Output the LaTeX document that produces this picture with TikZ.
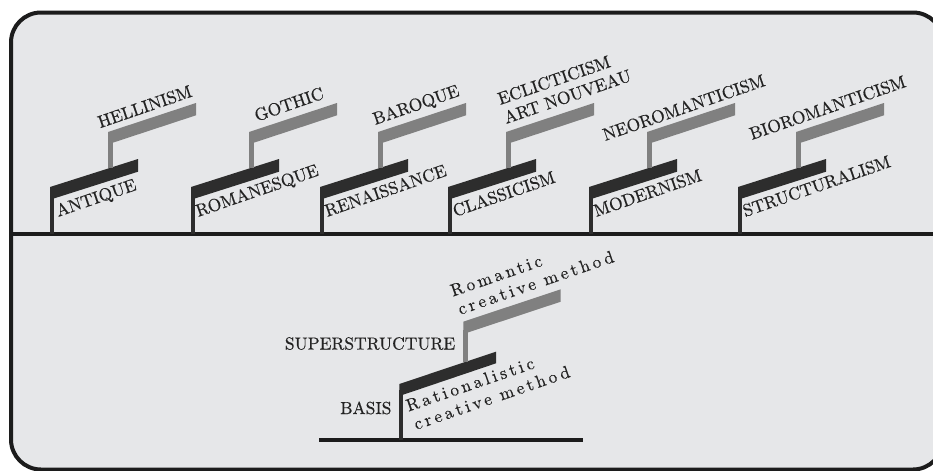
\documentclass[tikz,border=0pt]{standalone}
\usepackage{fontspec}
\newfontfamily\lblfont{lmroman10-regular.otf}[FakeBold=0.4]
\newfontfamily\spfont{lmroman10-regular.otf}[FakeBold=0.4,LetterSpace=18]
\definecolor{bg}{RGB}{230,231,233}
\definecolor{dk}{RGB}{45,45,45}
\definecolor{gr}{RGB}{128,128,128}
\definecolor{tx}{RGB}{35,35,35}
\definecolor{frame}{RGB}{28,28,28}
\tikzset{
  lbl/.style={inner sep=0pt, text=tx, font=\lblfont\fontsize{13.1}{15}\selectfont, rotate=19, anchor=base west},
  hlbl/.style={inner sep=0pt, text=tx, font=\lblfont\fontsize{13.1}{15}\selectfont, anchor=base east},
  splbl/.style={inner sep=0pt, text=tx, font=\spfont\fontsize{13.1}{15}\selectfont, rotate=19, anchor=base west},
  thick line/.style={line width=3pt, draw=frame},
}
\newcommand\periodunit[1]{%
  \begin{scope}[shift={(#1,0)}]
    \fill[dk] (-2,234) rectangle (2,192);
    \fill[dk] (-2,187) -- (86,159) -- (86,171.7) -- (-2,199.7) -- cycle;
    \fill[gr] (56,168) rectangle (61,140);
    \fill[gr] (56,132) -- (144,103) -- (144,115.3) -- (56,144.3) -- cycle;
  \end{scope}}
\begin{document}
\begin{tikzpicture}[x=0.75pt,y=-0.75pt]
\clip (0,0) rectangle (933,471);
\fill[white] (0,0) rectangle (933,471);
\draw[thick line, fill=bg, rounded corners=22.5pt] (11,12.5) rectangle (943,469.5);
\draw[thick line] (11,234) -- (943,234);

\periodunit{52}
\periodunit{193}
\periodunit{322}
\periodunit{450}
\periodunit{591}
\periodunit{740}

\node[lbl] (antique) at (58,217) {ANTIQUE};
\node[lbl] (romanesque) at (198,217) {ROMANESQUE};
\node[lbl] (renaissance) at (327,217) {RENAISSANCE};
\node[lbl] (classicism) at (455,217) {CLASSICISM};
\node[lbl] (modernism) at (596,217) {MODERNISM};
\node[lbl] (structuralism) at (745,217) {STRUCTURALISM};

\node[lbl] (hellinism) at (100,128.3) {HELLINISM};
\node[lbl] (gothic) at (256.7,121.7) {GOTHIC};
\node[lbl] (baroque) at (375,125) {BAROQUE};
\node[lbl] (eclecticism) at (500,105) {ECLICTICISM};
\node[lbl] (artnouveau) at (506,124) {ART NOUVEAU};
\node[lbl] (neoromanticism) at (605,141) {NEOROMANTICISM};
\node[lbl] (bioromanticism) at (751.7,140) {BIOROMANTICISM};

% lower part
\draw[thick line] (319.3,440) -- (583.3,440);
\fill[dk] (399.3,440) rectangle (403.3,390);
\fill[dk] (399.3,384) -- (496,351.7) -- (496,363.3) -- (399.3,396) -- cycle;
\fill[gr] (463.3,362) rectangle (468.3,330);
\fill[gr] (463.3,321.7) -- (560.7,289.3) -- (560.7,301.7) -- (463.3,334) -- cycle;

\node[hlbl] (superstructure) at (455.5,349.5) {SUPERSTRUCTURE};
\node[hlbl] (basis) at (391.7,414) {BASIS};
\node[splbl] (rat1) at (408.3,411.7) {Rationalistic};
\node[splbl] (rat2) at (416,430) {creative method};
\node[splbl] (rom1) at (452.7,296.7) {Romantic};
\node[splbl] (rom2) at (460,315) {creative method};
\end{tikzpicture}
\end{document}
